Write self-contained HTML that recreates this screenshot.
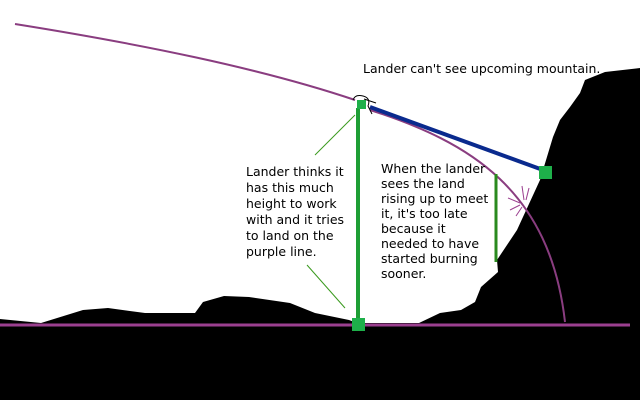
<!DOCTYPE html>
<html><head><meta charset="utf-8"><style>
html,body{margin:0;padding:0;background:#fff}
svg{display:block}
text{font-family:"DejaVu Sans",sans-serif;font-size:12.5px;fill:#000}
</style></head><body>
<svg width="640" height="400" viewBox="0 0 640 400">
<rect x="0" y="0" width="640" height="400" fill="#fff"/>
<polygon fill="#000" points="0,319 41,323 83,310 108,308 145,313 195,313 203,302 224,296 249,297 290,303 315,313 349,320 357,323 419,323 440,313 461,310 475,302 481,287 498,272 497,260 517,230 540,180 553,137 560,120 570,107 580,93 585,80 605,72 640,68 640,400 0,400"/>
<line x1="0" y1="325" x2="630" y2="325" stroke="#9b3f8f" stroke-width="3"/>
<path d="M15,24 C140,44 260,68 355,100" fill="none" stroke="#8a3d80" stroke-width="2"/>
<path d="M370,110 C470,142 550,190 565,322" fill="none" stroke="#8a3d80" stroke-width="2"/>
<g stroke="#9b3f8f" stroke-width="1">
<line x1="520" y1="203" x2="508" y2="198"/><line x1="520" y1="205" x2="510" y2="210"/><line x1="522" y1="207" x2="516" y2="216"/><line x1="524" y1="200" x2="522" y2="186"/><line x1="526" y1="200" x2="529" y2="188"/>
</g>
<line x1="358" y1="108" x2="358" y2="318" stroke="#1e9e35" stroke-width="4"/>
<rect x="352" y="318" width="13" height="13" fill="#1eb04a"/>
<line x1="370" y1="107" x2="543" y2="170" stroke="#0a2a8e" stroke-width="4"/>
<rect x="539" y="166" width="13" height="13" fill="#1eb04a"/>
<line x1="496" y1="174" x2="496" y2="262" stroke="#2a8a1e" stroke-width="3"/>
<rect x="357" y="100" width="9" height="9" fill="#1eb04a"/>
<path d="M353,100 q2,-6 10,-4 q8,2 5,10 l4,8 M364,99 l12,4" fill="none" stroke="#000" stroke-width="1"/>
<line x1="355" y1="115" x2="315" y2="155" stroke="#3a9a1e" stroke-width="1"/>
<line x1="307" y1="265" x2="345" y2="308" stroke="#3a9a1e" stroke-width="1"/>
<text x="363" y="73">Lander can't see upcoming mountain.</text>
<g>
<text x="246" y="176">Lander thinks it</text>
<text x="246" y="192">has this much</text>
<text x="246" y="208">height to work</text>
<text x="246" y="224">with and it tries</text>
<text x="246" y="240">to land on the</text>
<text x="246" y="256">purple line.</text>
</g>
<g>
<text x="381" y="173">When the lander</text>
<text x="381" y="188">sees the land</text>
<text x="381" y="203">rising up to meet</text>
<text x="381" y="218">it, it's too late</text>
<text x="381" y="233">because it</text>
<text x="381" y="248">needed to have</text>
<text x="381" y="263">started burning</text>
<text x="381" y="278">sooner.</text>
</g>
</svg>
</body></html>
